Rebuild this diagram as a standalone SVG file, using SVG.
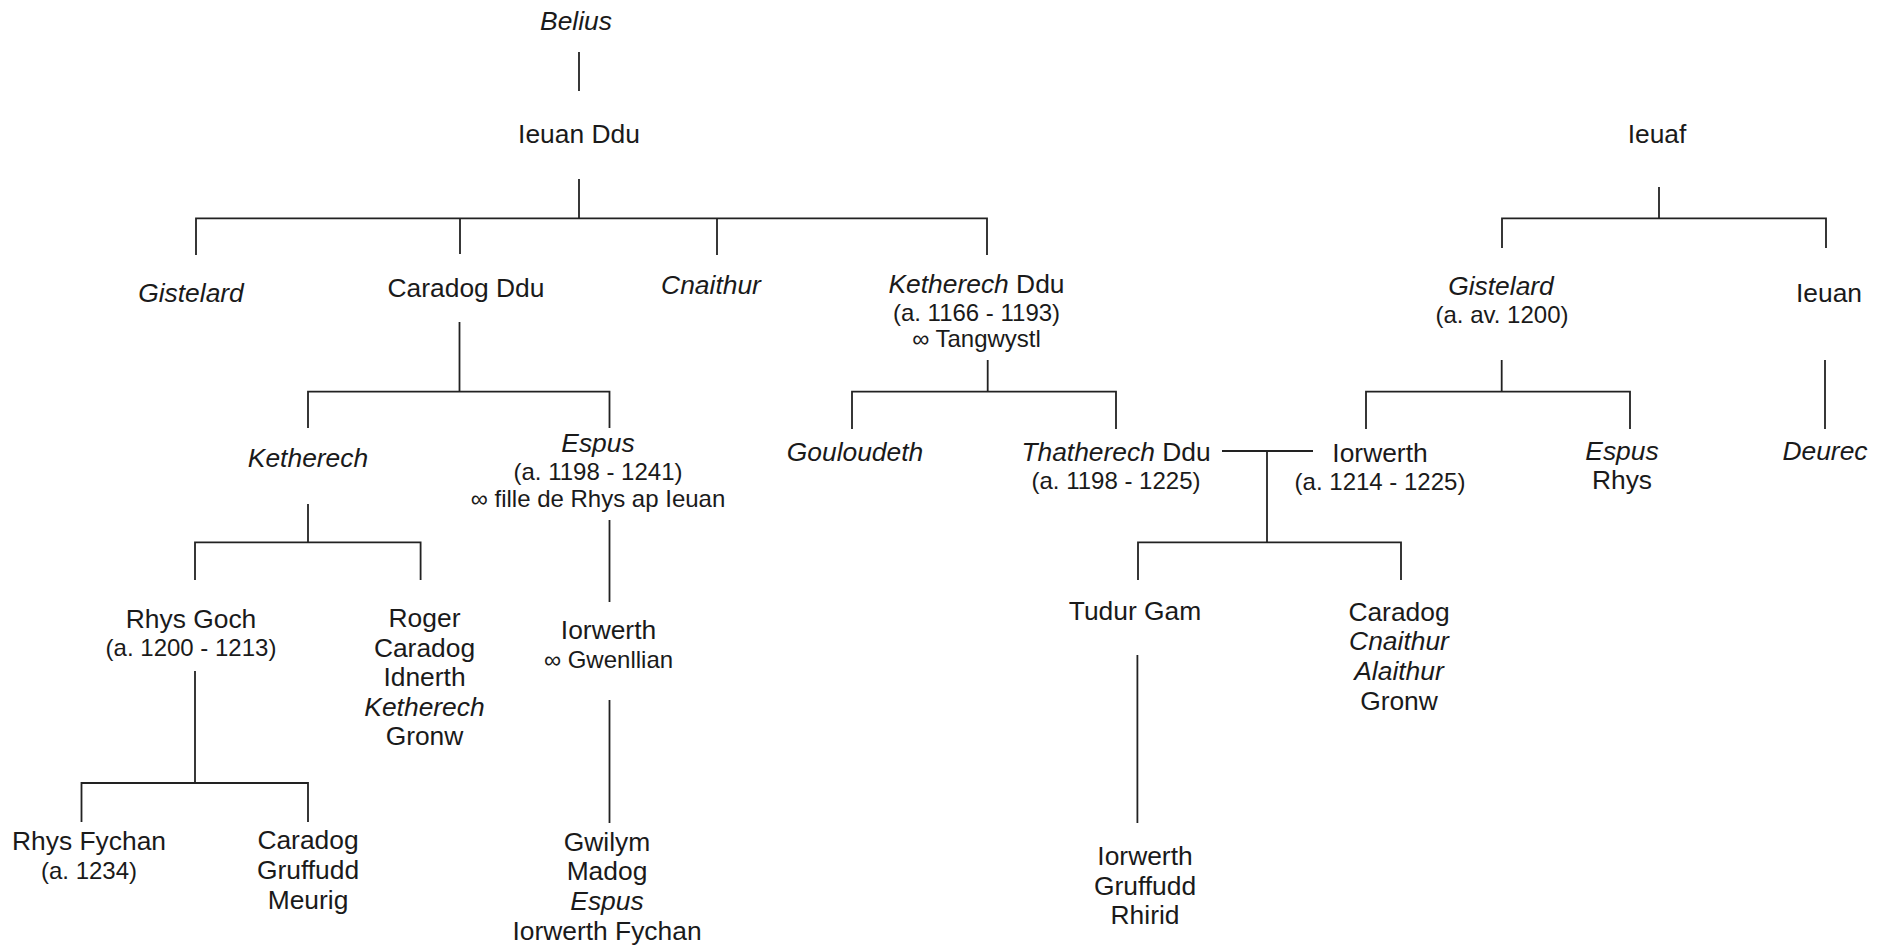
<svg xmlns="http://www.w3.org/2000/svg" width="1887" height="947" viewBox="0 0 1887 947">
<style>
text{font-family:"Liberation Sans",Arial,sans-serif;font-size:26.4px;fill:#1a1a1a;text-anchor:middle}
.i{font-style:italic}
.s{font-size:24px}
.c path{fill:none;stroke:#222;stroke-width:1.8}
</style>
<rect width="1887" height="947" fill="#fff"/>
<g class="c" id="connectors">
<path d="M579,52 V91"/>
<path d="M579,179 V218.3"/>
<path d="M196,255 V218.3 H987 V255"/>
<path d="M460,218.3 V254"/>
<path d="M717,218.3 V255"/>
<path d="M459.5,322 V391.7"/>
<path d="M308,428 V391.7 H609.5 V428"/>
<path d="M987.7,360 V391.7"/>
<path d="M852,429 V391.7 H1116 V429"/>
<path d="M1659,187 V218.3"/>
<path d="M1502,248 V218.3 H1826 V248"/>
<path d="M1501.7,360 V391.7"/>
<path d="M1366,429 V391.7 H1630 V429"/>
<path d="M1825,360 V429"/>
<path d="M308,504 V542.3"/>
<path d="M195,580 V542.3 H420.6 V580"/>
<path d="M609.5,520 V602"/>
<path d="M1222,451 H1313"/>
<path d="M1267,451 V542.3"/>
<path d="M1138,580 V542.3 H1401 V580"/>
<path d="M195,671 V783"/>
<path d="M81.5,822 V783 H308 V822"/>
<path d="M609.5,700 V823"/>
<path d="M1137.4,655 V823"/>
</g>
<g id="belius"><text class="i" x="576" y="30">Belius</text></g>
<g id="ieuan-ddu"><text x="579" y="143">Ieuan Ddu</text></g>
<g id="gistelard-1"><text class="i" x="191" y="302">Gistelard</text></g>
<g id="caradog-ddu"><text x="466" y="297">Caradog Ddu</text></g>
<g id="cnaithur"><text class="i" x="711" y="294">Cnaithur</text></g>
<g id="ketherech-ddu"><text x="976.5" y="293"><tspan class="i">Ketherech</tspan> Ddu</text><text class="s" x="976.5" y="321">(a. 1166 - 1193)</text><text class="s" x="976.5" y="347">∞ Tangwystl</text></g>
<g id="ketherech"><text class="i" x="308" y="467">Ketherech</text></g>
<g id="espus"><text class="i" x="598" y="452">Espus</text><text class="s" x="598" y="480">(a. 1198 - 1241)</text><text class="s" x="598" y="507">∞ fille de Rhys ap Ieuan</text></g>
<g id="gouloudeth"><text class="i" x="855" y="460.7">Gouloudeth</text></g>
<g id="thatherech-ddu"><text x="1116" y="460.7"><tspan class="i">Thatherech</tspan> Ddu</text><text class="s" x="1116" y="489">(a. 1198 - 1225)</text></g>
<g id="iorwerth-1"><text x="1380" y="461.5">Iorwerth</text><text class="s" x="1380" y="490">(a. 1214 - 1225)</text></g>
<g id="espus-rhys"><text class="i" x="1622" y="460">Espus</text><text x="1622" y="488.5">Rhys</text></g>
<g id="deurec"><text class="i" x="1825" y="459.5">Deurec</text></g>
<g id="ieuaf"><text x="1657" y="142.7">Ieuaf</text></g>
<g id="gistelard-2"><text class="i" x="1501" y="295">Gistelard</text><text class="s" x="1502" y="323">(a. av. 1200)</text></g>
<g id="ieuan"><text x="1829" y="301.7">Ieuan</text></g>
<g id="rhys-goch"><text x="191" y="628">Rhys Goch</text><text class="s" x="191" y="656">(a. 1200 - 1213)</text></g>
<g id="roger-group"><text x="424.5" y="627">Roger</text><text x="424.5" y="656.6">Caradog</text><text x="424.5" y="686.2">Idnerth</text><text class="i" x="424.5" y="715.8">Ketherech</text><text x="424.5" y="745.4">Gronw</text></g>
<g id="iorwerth-2"><text x="608.5" y="639">Iorwerth</text><text class="s" x="608.5" y="668">∞ Gwenllian</text></g>
<g id="rhys-fychan"><text x="89" y="850">Rhys Fychan</text><text class="s" x="89" y="879">(a. 1234)</text></g>
<g id="caradog-group"><text x="308" y="849.3">Caradog</text><text x="308" y="879">Gruffudd</text><text x="308" y="908.7">Meurig</text></g>
<g id="gwilym-group"><text x="607" y="850.7">Gwilym</text><text x="607" y="880.4">Madog</text><text class="i" x="607" y="910">Espus</text><text x="607" y="939.7">Iorwerth Fychan</text></g>
<g id="tudur-gam"><text x="1135" y="620">Tudur Gam</text></g>
<g id="caradog-cnaithur-group"><text x="1399" y="620.7">Caradog</text><text class="i" x="1399" y="650.3">Cnaithur</text><text class="i" x="1399" y="680">Alaithur</text><text x="1399" y="709.6">Gronw</text></g>
<g id="iorwerth-gruffudd-rhirid"><text x="1145" y="865">Iorwerth</text><text x="1145" y="894.6">Gruffudd</text><text x="1145" y="924.2">Rhirid</text></g>
</svg>
